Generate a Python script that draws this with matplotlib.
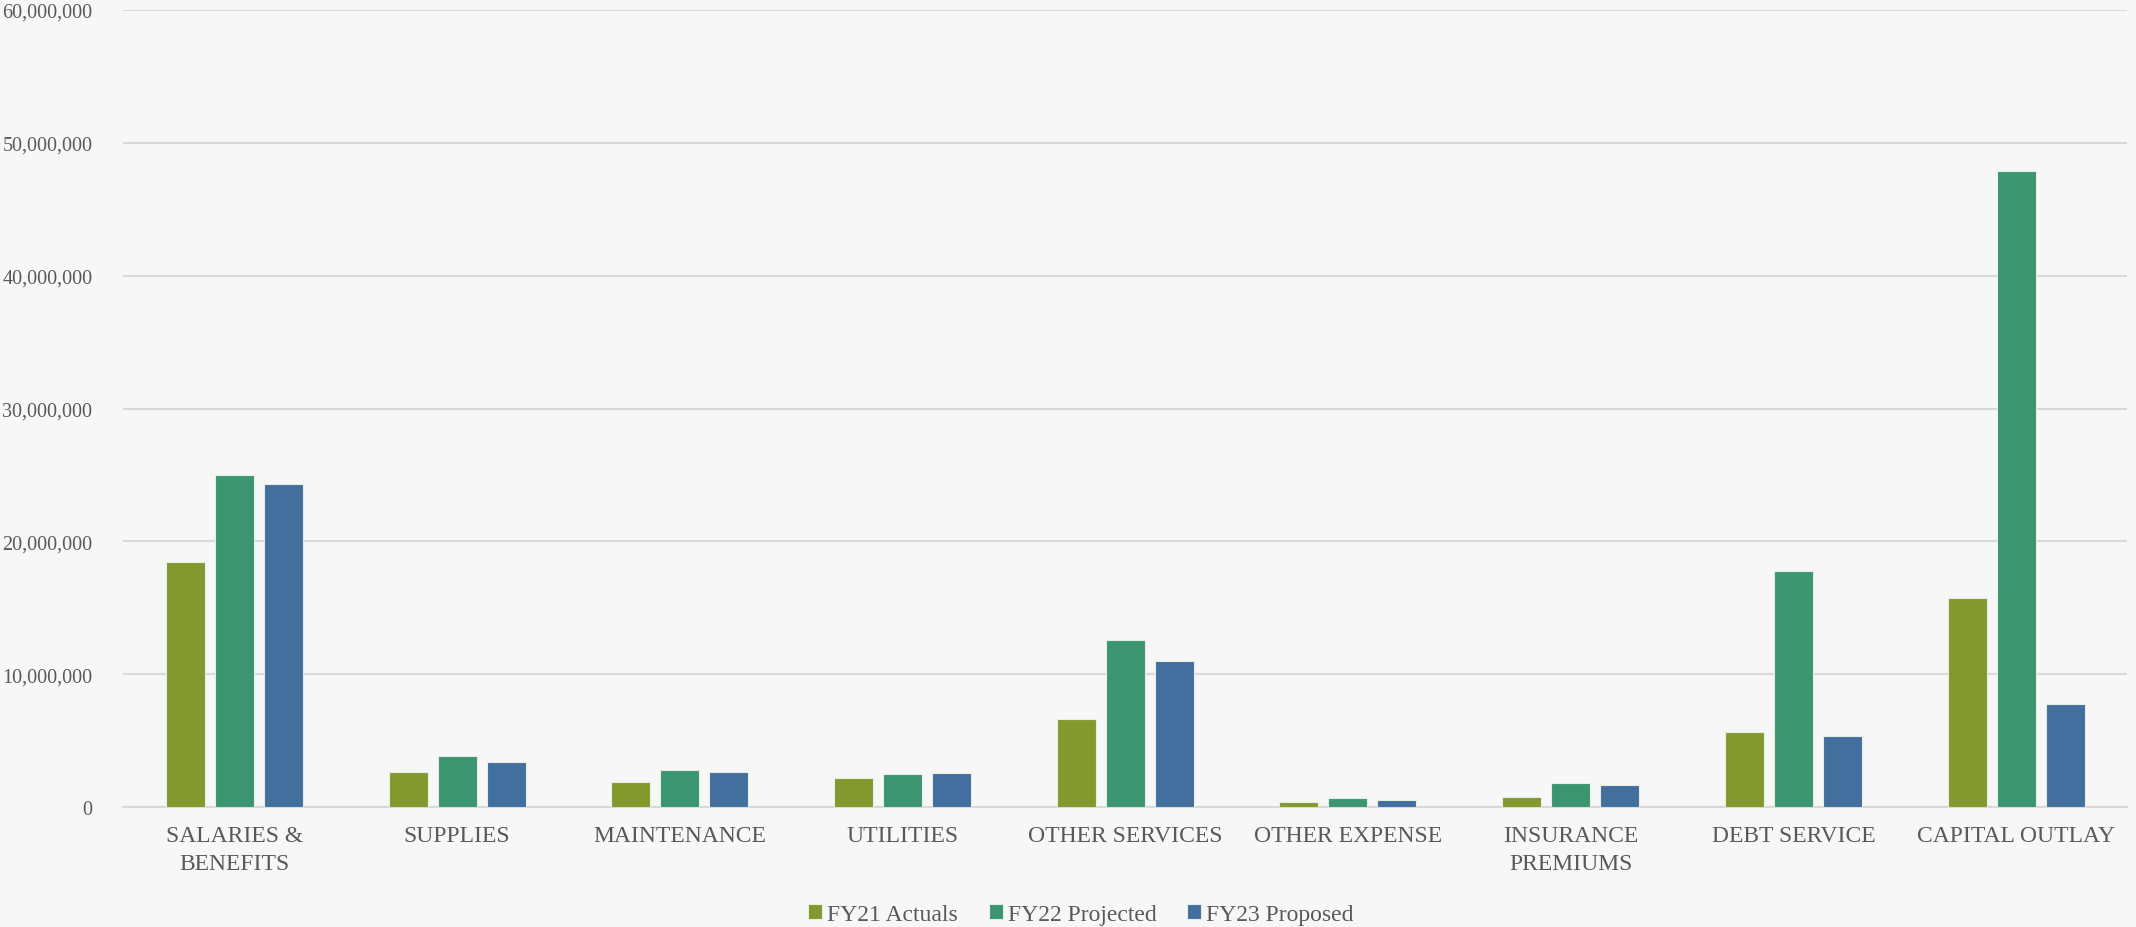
import numpy as np
import matplotlib.pyplot as plt
from matplotlib.ticker import FuncFormatter

plt.rcParams['font.family'] = ['Liberation Serif', 'DejaVu Serif']

categories = ["SALARIES &\nBENEFITS", "SUPPLIES", "MAINTENANCE", "UTILITIES",
              "OTHER SERVICES", "OTHER EXPENSE", "INSURANCE\nPREMIUMS",
              "DEBT SERVICE", "CAPITAL OUTLAY"]
fy21 = [18450000, 2650000, 1870000, 2170000, 6620000, 380000, 790000, 5640000, 15750000]
fy22 = [25000000, 3860000, 2780000, 2460000, 12580000, 690000, 1790000, 17750000, 47850000]
fy23 = [24300000, 3370000, 2600000, 2540000, 11030000, 520000, 1680000, 5340000, 7750000]
series_names = ["FY21 Actuals", "FY22 Projected", "FY23 Proposed"]
colors = ["#84992d", "#3b9570", "#426f9d"]

bg = "#f7f7f7"
grid_col = "#d9d9d9"
text_col = "#595959"

fig = plt.figure(figsize=(21.36, 9.28), dpi=100, facecolor=bg)
ax = fig.add_axes([0.0576, 0.1293, 0.9384, 0.8588], facecolor=bg)

x = np.arange(len(categories))
w = 0.175
step = 0.22
for i, (vals, name, c) in enumerate(zip([fy21, fy22, fy23], series_names, colors)):
    ax.bar(x + (i - 1) * step, vals, width=w, color=c, label=name,
           edgecolor="#e4eee4", linewidth=0.8, zorder=3)

ax.set_ylim(0, 60000000)
ax.set_xlim(-0.5, len(categories) - 0.5)
ax.set_yticks(np.arange(0, 60000001, 10000000))
ax.yaxis.set_major_formatter(FuncFormatter(lambda v, p: "{:,.0f}".format(v)))
ax.set_xticks(x)
ax.set_xticklabels(categories, linespacing=1.45)
ax.grid(axis="y", color=grid_col, linewidth=1.5, zorder=0)
ax.set_axisbelow(True)
for s in ["top", "right", "left"]:
    ax.spines[s].set_visible(False)
ax.spines["bottom"].set_color(grid_col)
ax.spines["bottom"].set_linewidth(1.5)
ax.tick_params(axis="both", length=0, colors=text_col)
ax.tick_params(axis="y", pad=22, labelsize=14.5)
ax.tick_params(axis="x", pad=13, labelsize=17)

leg = fig.legend(loc="lower center", bbox_to_anchor=(0.506, -0.021), ncol=3,
                 frameon=False, fontsize=17, handlelength=0.6, handleheight=0.6,
                 handletextpad=0.2, columnspacing=1.3)
for t in leg.get_texts():
    t.set_color(text_col)

fig.savefig("out.png", dpi=100, facecolor=bg)
